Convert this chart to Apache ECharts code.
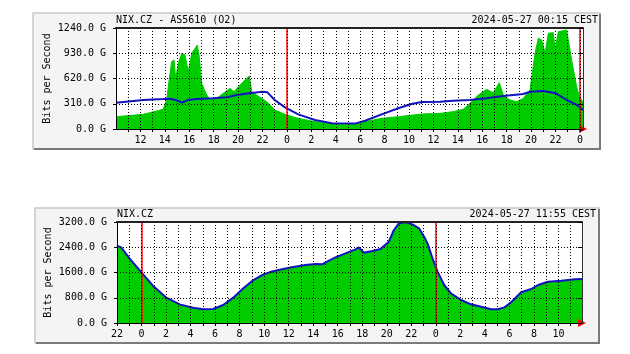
<!DOCTYPE html>
<html>
<head>
<meta charset="utf-8">
<script src="https://cdn.jsdelivr.net/npm/echarts@6/dist/echarts.min.js"></script>
<style>
  html, body { margin: 0; padding: 0; background: #fff; }
  #main { width: 630px; height: 354px; }
</style>
</head>
<body>
<div id="main"></div>
<script>
// hours relative to midnight of 2024-05-27 (0 = 00:00)
const topInHours = [-38, -35.76, -34.13, -33.85, -33.63, -33.44, -33.25, -33.11, -32.9, -32.62, -32.35, -32.08, -31.8, -31.34, -31.18, -30.98, -30.57, -30.3, -29.75, -29.21, -28.66, -28.34, -27.84, -27.3, -27.08, -26.89, -26.48, -25.66, -24.98, -24.16, -23.07, -21.7, -20.33, -18.43, -17.6, -16.24, -14.88, -12.96, -11.46, -10.38, -9.56, -9.01, -8.33, -7.64, -7.1, -6.61, -6.28, -5.73, -5.18, -4.64, -4.09, -3.68, -3.41, -3.13, -2.86, -2.59, -2.18, -2.04, -1.77, -1.09, -0.68, -0.27, -0.05, 0.25];
const topInValues = [151, 180, 242, 356, 622, 827, 847, 622, 806, 929, 909, 704, 929, 1031, 888, 561, 417, 364, 376, 438, 499, 458, 540, 622, 650, 458, 417, 336, 233, 180, 131, 90, 70, 61, 90, 131, 151, 184, 192, 213, 242, 315, 417, 487, 446, 569, 417, 356, 336, 376, 479, 929, 1114, 1093, 929, 1175, 1183, 970, 1195, 1216, 847, 519, 397, 330];

const topOutHours = [-38, -35.76, -34.13, -33.6, -33.1, -32.6, -32.1, -31.4, -30.1, -28.9, -28.1, -27.1, -26.0, -25.6, -25.0, -24.16, -23.07, -21.7, -20.33, -18.43, -17.6, -16.24, -14.88, -13.8, -12.96, -11.46, -10.38, -9.01, -7.64, -6.28, -4.64, -4.09, -3.0, -2.0, -1.1, -0.3, 0.25];
const topOutValues = [323, 356, 368, 372, 356, 323, 356, 368, 377, 389, 417, 438, 458, 450, 356, 266, 180, 110, 70, 66, 102, 180, 254, 307, 331, 336, 348, 356, 377, 405, 430, 458, 467, 440, 356, 300, 233];

const botHours = [-26, -25.66, -24.98, -23.94, -23.07, -21.98, -20.89, -19.8, -18.98, -18.16, -17.34, -16.52, -15.7, -14.88, -14.07, -13.57, -12.84, -11.74, -10.65, -9.83, -9.28, -8.87, -8.19, -7.37, -6.55, -6.28, -5.88, -5.19, -4.51, -3.83, -3.42, -3.01, -2.46, -1.91, -1.37, -0.88, -0.68, -0.27, 0.14, 0.68, 1.23, 2.05, 2.87, 3.69, 4.5, 5.05, 5.6, 6.14, 6.96, 7.78, 8.33, 9.15, 10.24, 11.33, 11.92];
const botValues = [2450, 2397, 2049, 1574, 1183, 803, 591, 486, 433, 443, 570, 803, 1098, 1362, 1542, 1605, 1679, 1763, 1837, 1869, 1858, 1942, 2080, 2206, 2333, 2397, 2228, 2281, 2344, 2576, 2946, 3157, 3189, 3126, 3000, 2683, 2524, 2049, 1626, 1204, 940, 729, 591, 517, 433, 433, 496, 655, 972, 1077, 1204, 1309, 1341, 1383, 1394];

const midnights = [-24, 0];
const topRange = [-38, 0.25];
const botRange = [-26, 11.92];

const FONT = 'DejaVu Sans Mono';
const txt = { fontFamily: FONT, fontSize: 10, color: '#000', fontWeight: 'normal' };

const pairs = (xs, ys) => xs.map((x, i) => [x, ys[i]]);

function hourLabel(v) {
  const r = Math.round(v);
  if (Math.abs(v - r) > 1e-6 || r % 2 !== 0) return '';
  return String(((r % 24) + 24) % 24);
}

function bottomX(grid, range, showMin) {
  return {
    gridIndex: grid, type: 'value', min: range[0], max: range[1], interval: 1, z: 10,
    axisLine: { onZero: false, lineStyle: { color: '#000', width: 1 } },
    axisTick: { length: 3, lineStyle: { color: '#000' } },
    axisLabel: Object.assign({ formatter: hourLabel, margin: 6, showMinLabel: showMin, showMaxLabel: false }, txt),
    splitLine: { show: true, lineStyle: { color: '#000', type: [1, 2], width: 1 } }
  };
}
function topX(grid, range) {
  return {
    gridIndex: grid, type: 'value', position: 'top', min: range[0], max: range[1], z: 10,
    axisLine: { onZero: false, lineStyle: { color: '#222', width: 2 } },
    axisTick: { show: false }, axisLabel: { show: false }, splitLine: { show: false }
  };
}
function leftY(grid, max, step, gap) {
  return {
    gridIndex: grid, type: 'value', min: 0, max: max, interval: step, z: 10,
    name: 'Bits per Second', nameLocation: 'middle', nameRotate: 90, nameGap: gap,
    nameMoveOverlap: false,
    nameTextStyle: txt,
    axisLine: { show: true, onZero: false, lineStyle: { color: '#000', width: 1 } },
    axisTick: { show: true, length: 3, lineStyle: { color: '#000' } },
    axisLabel: Object.assign({ formatter: v => v.toFixed(1) + ' G', margin: 10 }, txt),
    splitLine: { show: true, lineStyle: { color: '#000', type: [1, 2], width: 1 } }
  };
}
function rightY(grid, max, step) {
  return {
    gridIndex: grid, type: 'value', position: 'right', min: 0, max: max, interval: step, z: 10,
    axisLine: { show: true, onZero: false, lineStyle: { color: '#333', width: 1 } },
    axisTick: { show: true, inside: true, length: 4, lineStyle: { color: '#000' } },
    axisLabel: { show: false }, splitLine: { show: false }
  };
}
function redMarks(xMax) {
  return {
    markLine: {
      silent: true, symbol: 'none', label: { show: false },
      lineStyle: { color: '#ff0000', type: 'solid', width: 1.5 },
      data: midnights.map(h => ({ xAxis: h }))
    },
    markPoint: {
      silent: true, symbol: 'triangle', symbolSize: [8, 8], symbolRotate: -90,
      itemStyle: { color: '#ff0000' }, label: { show: false },
      data: [{ coord: [xMax, 0] }]
    }
  };
}

function panel(x, y, w, h) {
  return [
    { type: 'rect', z: -100, shape: { x: x, y: y, width: w, height: h }, style: { fill: '#f4f4f4', stroke: '#c8c8c8', lineWidth: 1.5 } },
    { type: 'polyline', z: -99, shape: { points: [[x + 1, y + h], [x + w, y + h], [x + w, y + 1]] }, style: { fill: null, stroke: '#7a7a7a', lineWidth: 2 } }
  ];
}

const chart = echarts.init(document.getElementById('main'));
chart.setOption({
  animation: false,
  backgroundColor: '#fff',
  graphic: panel(33, 13, 567, 136).concat(panel(35, 208, 564, 135)),
  title: [
    { text: 'NIX.CZ - AS5610 (O2)', left: 116, top: 15, padding: 0, textStyle: txt },
    { text: '2024-05-27 00:15 CEST', right: 32, top: 15, padding: 0, textStyle: txt },
    { text: 'NIX.CZ', left: 117, top: 209, padding: 0, textStyle: txt },
    { text: '2024-05-27 11:55 CEST', right: 34, top: 209, padding: 0, textStyle: txt }
  ],
  grid: [
    { left: 116, top: 28, width: 467, height: 101, show: true, backgroundColor: '#fff', borderWidth: 0 },
    { left: 117, top: 222, width: 465, height: 101, show: true, backgroundColor: '#fff', borderWidth: 0 }
  ],
  xAxis: [bottomX(0, topRange, false), topX(0, topRange), bottomX(1, botRange, true), topX(1, botRange)],
  yAxis: [leftY(0, 1240, 310, 64), rightY(0, 1240, 310), leftY(1, 3200, 800, 64), rightY(1, 3200, 800)],
  series: [
    Object.assign({
      name: 'In', type: 'line', xAxisIndex: 0, yAxisIndex: 0,
      data: pairs(topInHours, topInValues), showSymbol: false,
      lineStyle: { color: '#00cc00', width: 1 },
      areaStyle: { color: '#00cc00', opacity: 1 }
    }, redMarks(topRange[1])),
    {
      name: 'Out', type: 'line', xAxisIndex: 0, yAxisIndex: 0,
      data: pairs(topOutHours, topOutValues), showSymbol: false,
      lineStyle: { color: '#1212c4', width: 2 }
    },
    Object.assign({
      name: 'Total', type: 'line', xAxisIndex: 2, yAxisIndex: 2,
      data: pairs(botHours, botValues), showSymbol: false,
      lineStyle: { color: '#1212c4', width: 2 },
      areaStyle: { color: '#00cc00', opacity: 1 }
    }, redMarks(botRange[1]))
  ]
});
</script>
</body>
</html>
